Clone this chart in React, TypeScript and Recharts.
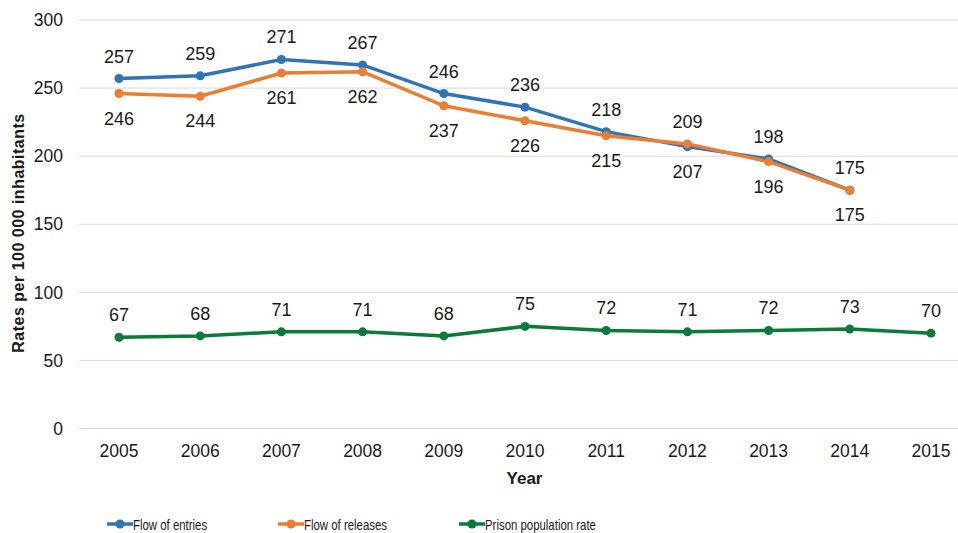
import { LineChart, Line, XAxis, YAxis, CartesianGrid, Legend, LabelList, Label } from 'recharts'

const years = ['2005', '2006', '2007', '2008', '2009', '2010', '2011', '2012', '2013', '2014', '2015']
const entries = [257, 259, 271, 267, 246, 236, 218, 207, 198, 175, null]
const releases = [246, 244, 261, 262, 237, 226, 215, 209, 196, 175, null]
const prisonRate = [67, 68, 71, 71, 68, 75, 72, 71, 72, 73, 70]
const yTicks = [0, 50, 100, 150, 200, 250, 300]

const BLUE = '#2E75B6'
const ORANGE = '#ED7D31'
const GREEN = '#0B7B3A'
const TEXT = '#1a1a1a'
const ARIAL = '"Liberation Sans", Arial, sans-serif'

const data = years.map((year, i) => ({
  year,
  entries: entries[i],
  releases: releases[i],
  prison: prisonRate[i],
}))

// label goes above the dot when this series is the higher one at that year
const makeLabel = (own: (number | null)[], other: (number | null)[] | null, winsTie: boolean) =>
  (props: any) => {
    const { x, y, value, index } = props
    if (value == null || x == null || y == null) return null
    const o = other ? other[index] : null
    const v = own[index] as number
    const above = o == null || (winsTie ? v >= o : v > o)
    return (
      <text
        x={x}
        y={above ? y - 16 : y + 31}
        textAnchor="middle"
        fontSize={18}
        fontFamily={ARIAL}
        fill={TEXT}
      >
        {value}
      </text>
    )
  }

const legendLeft = [107, 278, 459]

const renderLegend = (props: any) => {
  const { payload = [] } = props
  return (
    <div style={{ position: 'relative', height: 22, fontFamily: ARIAL, fontSize: 15, color: TEXT }}>
      {payload.map((p: any, i: number) => (
        <div
          key={p.value}
          style={{ position: 'absolute', left: legendLeft[i], top: 0, height: 22, display: 'flex', alignItems: 'center' }}
        >
          <svg width={26} height={12} style={{ display: 'block' }}>
            <line x1={0} y1={6} x2={26} y2={6} stroke={p.color} strokeWidth={3.5} />
            <circle cx={13} cy={6} r={4.5} fill={p.color} />
          </svg>
          {/* source font is a condensed face, squeeze the sans to match */}
          <span
            style={{
              display: 'inline-block',
              whiteSpace: 'nowrap',
              transform: 'scaleX(0.76)',
              transformOrigin: 'left center',
            }}
          >
            {p.value}
          </span>
        </div>
      ))}
    </div>
  )
}

export default function App() {
  return (
    <div style={{ position: 'absolute', left: 0, top: 0, width: 958, height: 533, background: '#fff' }}>
      <LineChart width={958} height={533} data={data} margin={{ top: 20, right: 0, bottom: 44.5, left: 0 }}>
        <CartesianGrid stroke="#d9d9d9" vertical={false} />
        <XAxis
          dataKey="year"
          axisLine={false}
          tickLine={false}
          tickMargin={10}
          height={60}
          padding={{ left: 40, right: 27 }}
          tick={{ fontSize: 17.5, fill: TEXT, fontFamily: ARIAL }}
        >
          <Label
            value="Year"
            position="insideBottom"
            offset={5}
            dx={6}
            style={{ fontSize: 17, fontWeight: 'bold', fontFamily: ARIAL, fill: TEXT }}
          />
        </XAxis>
        <YAxis
          width={79}
          domain={[0, 300]}
          ticks={yTicks}
          axisLine={false}
          tickLine={false}
          tickMargin={10}
          tick={{ fontSize: 17.5, fill: TEXT, fontFamily: ARIAL }}
        >
          <Label
            content={() => (
              <text
                transform="translate(24,233) rotate(-90)"
                textAnchor="middle"
                fontSize={16}
                fontWeight="bold"
                fontFamily={ARIAL}
                letterSpacing={0.5}
                fill={TEXT}
              >
                Rates per 100 000 inhabitants
              </text>
            )}
          />
        </YAxis>
        <Legend
          verticalAlign="middle"
          align="center"
          content={renderLegend}
          wrapperStyle={{ top: 513, left: 0, width: 958, height: 22 }}
        />
        <Line
          type="linear"
          dataKey="entries"
          name="Flow of entries"
          stroke={BLUE}
          strokeWidth={3.5}
          dot={{ r: 4.5, fill: BLUE, stroke: 'none' }}
          activeDot={false}
          isAnimationActive={false}
        >
          <LabelList dataKey="entries" content={makeLabel(entries, releases, true)} />
        </Line>
        <Line
          type="linear"
          dataKey="releases"
          name="Flow of releases"
          stroke={ORANGE}
          strokeWidth={3.5}
          dot={{ r: 4.5, fill: ORANGE, stroke: 'none' }}
          activeDot={false}
          isAnimationActive={false}
        >
          <LabelList dataKey="releases" content={makeLabel(releases, entries, false)} />
        </Line>
        <Line
          type="linear"
          dataKey="prison"
          name="Prison population rate"
          stroke={GREEN}
          strokeWidth={3.5}
          dot={{ r: 4.5, fill: GREEN, stroke: 'none' }}
          activeDot={false}
          isAnimationActive={false}
        >
          <LabelList dataKey="prison" content={makeLabel(prisonRate, null, true)} />
        </Line>
      </LineChart>
    </div>
  )
}
